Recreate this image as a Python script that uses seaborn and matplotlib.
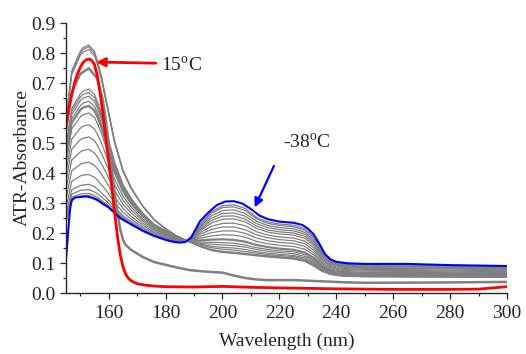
#!/usr/bin/env python3
"""ATR absorbance spectra on cooling, 15 C (red) to -38 C (blue)."""
import matplotlib; matplotlib.use('Agg')
import matplotlib.pyplot as plt
from matplotlib.ticker import MultipleLocator
import seaborn as sns
import pandas as pd

# ─── Data ───
RED_WL = [145, 146, 147, 148, 149, 150, 151, 152, 153, 154, 155, 156, 157, 158, 159, 160, 161, 162,
          163, 164, 165, 166, 167, 168, 170, 173, 176, 180, 190, 200, 210, 220, 240, 260, 280, 290, 295, 300]
RED_A = [0.56, 0.615, 0.66, 0.70, 0.73, 0.752, 0.768, 0.777, 0.78, 0.776, 0.762, 0.725, 0.665, 0.595,
         0.515, 0.44, 0.36, 0.275, 0.195, 0.13, 0.088, 0.062, 0.048, 0.04, 0.031, 0.026, 0.023, 0.021,
         0.02, 0.022, 0.019, 0.017, 0.014, 0.012, 0.012, 0.013, 0.017, 0.021]

BLUE_WL = [145, 145.5, 146, 146.5, 147, 148, 150, 152, 154, 156, 158, 160, 164, 168, 172, 176, 180,
           183, 185, 187, 189, 192, 195, 198, 201, 204, 207, 210, 213, 216, 220, 225, 228, 230, 232,
           234, 236, 238, 240, 244, 250, 265, 280, 300]
BLUE_A = [0.115, 0.17, 0.235, 0.285, 0.308, 0.318, 0.32, 0.322, 0.318, 0.31, 0.297, 0.285, 0.25,
          0.228, 0.207, 0.19, 0.177, 0.17, 0.168, 0.17, 0.185, 0.238, 0.268, 0.293, 0.305, 0.306,
          0.298, 0.28, 0.258, 0.246, 0.238, 0.234, 0.227, 0.215, 0.196, 0.165, 0.13, 0.112, 0.104,
          0.099, 0.097, 0.097, 0.093, 0.09]

# first spectrum after 15 C: steep drop, flat low tail
DROP_WL = [145, 147, 150, 153, 156, 158, 159, 160, 161, 162, 163, 164, 165, 166, 168, 172, 176, 180,
           184, 188, 192, 196, 200, 204, 208, 212, 216, 225, 235, 242, 250, 275, 300]
DROP_A = [0.54, 0.67, 0.73, 0.749, 0.715, 0.64, 0.575, 0.50, 0.42, 0.34, 0.27, 0.215, 0.178, 0.16,
          0.143, 0.12, 0.103, 0.094, 0.085, 0.077, 0.073, 0.07, 0.068, 0.058, 0.05, 0.045, 0.043,
          0.043, 0.039, 0.036, 0.034, 0.035, 0.037]

# intermediate temperatures, all on one wavelength grid
GRAY_WL = [145, 147, 150, 151, 153, 155, 156, 157.5, 159, 160.5, 162, 165, 168, 172, 176, 180, 184,
           188, 192, 196, 200, 204, 208, 212, 216, 220, 225, 229, 232, 235, 238, 242, 250, 275, 300]
GRAY_A = [
    [0.58, 0.74, 0.805, 0.818, 0.827, 0.805, 0.775, 0.72, 0.65, 0.58, 0.51, 0.41, 0.35, 0.29, 0.245, 0.215, 0.19, 0.172, 0.155, 0.142, 0.135, 0.132, 0.128, 0.124, 0.12, 0.117, 0.113, 0.105, 0.09, 0.072, 0.062, 0.056, 0.054, 0.053, 0.052],
    [0.576, 0.735, 0.80, 0.812, 0.821, 0.799, 0.77, 0.715, 0.646, 0.577, 0.507, 0.408, 0.348, 0.289, 0.244, 0.214, 0.19, 0.172, 0.156, 0.143, 0.137, 0.134, 0.13, 0.126, 0.122, 0.119, 0.115, 0.107, 0.092, 0.073, 0.063, 0.057, 0.055, 0.054, 0.053],
    [0.57, 0.728, 0.792, 0.803, 0.812, 0.791, 0.763, 0.709, 0.641, 0.573, 0.503, 0.405, 0.346, 0.288, 0.243, 0.213, 0.189, 0.172, 0.157, 0.145, 0.139, 0.136, 0.132, 0.128, 0.124, 0.121, 0.117, 0.109, 0.094, 0.075, 0.064, 0.058, 0.056, 0.055, 0.054],
    [0.489, 0.614, 0.663, 0.673, 0.68, 0.662, 0.639, 0.597, 0.545, 0.492, 0.439, 0.362, 0.314, 0.266, 0.229, 0.208, 0.186, 0.172, 0.16, 0.151, 0.146, 0.143, 0.138, 0.133, 0.128, 0.125, 0.121, 0.112, 0.097, 0.077, 0.065, 0.059, 0.057, 0.056, 0.054],
    [0.481, 0.605, 0.653, 0.662, 0.668, 0.651, 0.629, 0.588, 0.538, 0.486, 0.434, 0.358, 0.312, 0.264, 0.228, 0.207, 0.185, 0.172, 0.163, 0.156, 0.152, 0.15, 0.145, 0.138, 0.133, 0.129, 0.125, 0.117, 0.101, 0.08, 0.067, 0.061, 0.058, 0.057, 0.056],
    [0.472, 0.594, 0.641, 0.650, 0.656, 0.639, 0.617, 0.578, 0.529, 0.478, 0.428, 0.354, 0.309, 0.262, 0.226, 0.206, 0.185, 0.172, 0.166, 0.163, 0.16, 0.158, 0.153, 0.145, 0.139, 0.135, 0.131, 0.122, 0.106, 0.083, 0.07, 0.063, 0.06, 0.059, 0.058],
    [0.459, 0.58, 0.624, 0.633, 0.639, 0.622, 0.602, 0.563, 0.516, 0.468, 0.42, 0.348, 0.304, 0.259, 0.224, 0.204, 0.184, 0.173, 0.17, 0.169, 0.168, 0.166, 0.16, 0.151, 0.145, 0.141, 0.137, 0.128, 0.11, 0.086, 0.072, 0.065, 0.062, 0.061, 0.059],
    [0.449, 0.567, 0.61, 0.618, 0.624, 0.608, 0.588, 0.551, 0.506, 0.459, 0.413, 0.344, 0.301, 0.257, 0.223, 0.202, 0.183, 0.173, 0.175, 0.178, 0.179, 0.177, 0.171, 0.16, 0.153, 0.148, 0.144, 0.135, 0.117, 0.091, 0.075, 0.068, 0.065, 0.064, 0.062],
    [0.431, 0.547, 0.587, 0.594, 0.60, 0.585, 0.566, 0.531, 0.489, 0.445, 0.401, 0.336, 0.295, 0.253, 0.22, 0.20, 0.181, 0.173, 0.182, 0.19, 0.194, 0.193, 0.186, 0.172, 0.164, 0.159, 0.155, 0.146, 0.127, 0.098, 0.08, 0.072, 0.069, 0.068, 0.065],
    [0.403, 0.513, 0.549, 0.556, 0.561, 0.547, 0.53, 0.499, 0.461, 0.422, 0.382, 0.323, 0.286, 0.246, 0.216, 0.197, 0.179, 0.173, 0.188, 0.201, 0.207, 0.207, 0.199, 0.183, 0.174, 0.169, 0.165, 0.155, 0.135, 0.103, 0.084, 0.075, 0.073, 0.071, 0.068],
    [0.374, 0.479, 0.511, 0.516, 0.52, 0.508, 0.493, 0.465, 0.433, 0.398, 0.363, 0.31, 0.276, 0.24, 0.212, 0.194, 0.178, 0.174, 0.194, 0.212, 0.22, 0.22, 0.211, 0.194, 0.184, 0.178, 0.174, 0.164, 0.143, 0.109, 0.088, 0.079, 0.076, 0.074, 0.071],
    [0.343, 0.443, 0.47, 0.475, 0.479, 0.467, 0.454, 0.43, 0.403, 0.373, 0.343, 0.296, 0.266, 0.233, 0.207, 0.191, 0.176, 0.174, 0.20, 0.222, 0.232, 0.233, 0.224, 0.204, 0.193, 0.187, 0.183, 0.173, 0.151, 0.114, 0.092, 0.082, 0.079, 0.077, 0.074],
    [0.312, 0.407, 0.429, 0.433, 0.436, 0.425, 0.415, 0.395, 0.373, 0.348, 0.322, 0.282, 0.255, 0.226, 0.202, 0.188, 0.174, 0.174, 0.206, 0.233, 0.246, 0.247, 0.237, 0.215, 0.203, 0.197, 0.193, 0.182, 0.159, 0.12, 0.096, 0.086, 0.082, 0.081, 0.077],
    [0.283, 0.372, 0.39, 0.393, 0.395, 0.386, 0.377, 0.36, 0.344, 0.323, 0.303, 0.269, 0.246, 0.219, 0.198, 0.185, 0.173, 0.174, 0.21, 0.241, 0.256, 0.257, 0.246, 0.223, 0.21, 0.204, 0.20, 0.189, 0.165, 0.124, 0.099, 0.088, 0.085, 0.083, 0.079],
    [0.259, 0.344, 0.358, 0.36, 0.362, 0.354, 0.347, 0.333, 0.32, 0.304, 0.287, 0.258, 0.238, 0.214, 0.194, 0.183, 0.171, 0.174, 0.215, 0.249, 0.265, 0.267, 0.256, 0.231, 0.218, 0.211, 0.207, 0.196, 0.171, 0.129, 0.102, 0.091, 0.087, 0.086, 0.081],
    [0.247, 0.329, 0.342, 0.343, 0.345, 0.337, 0.331, 0.319, 0.308, 0.294, 0.279, 0.252, 0.233, 0.211, 0.192, 0.181, 0.17, 0.175, 0.219, 0.257, 0.275, 0.277, 0.265, 0.239, 0.225, 0.218, 0.214, 0.202, 0.177, 0.133, 0.104, 0.093, 0.09, 0.088, 0.084],
    [0.238, 0.319, 0.33, 0.331, 0.332, 0.325, 0.319, 0.308, 0.299, 0.286, 0.273, 0.248, 0.23, 0.209, 0.191, 0.179, 0.169, 0.175, 0.224, 0.265, 0.285, 0.287, 0.275, 0.247, 0.232, 0.225, 0.221, 0.209, 0.184, 0.137, 0.107, 0.096, 0.092, 0.09, 0.086],
    [0.233, 0.313, 0.323, 0.324, 0.325, 0.318, 0.313, 0.303, 0.294, 0.282, 0.269, 0.246, 0.229, 0.208, 0.19, 0.178, 0.169, 0.175, 0.227, 0.27, 0.291, 0.294, 0.282, 0.252, 0.237, 0.23, 0.226, 0.214, 0.188, 0.14, 0.109, 0.098, 0.094, 0.092, 0.087],
]
THICK_GRAY = [7]  # the 0.62 spectrum is drawn heavier

gray_df = pd.DataFrame([
    {'curve': i, 'wl': w, 'A': a}
    for i, curve in enumerate(GRAY_A) for w, a in zip(GRAY_WL, curve)])

# ─── Style ───
sns.set_style('ticks')
plt.rcParams['font.family'] = ['Liberation Serif', 'DejaVu Serif']
plt.rcParams['mathtext.fontset'] = 'custom'
plt.rcParams['mathtext.rm'] = 'Liberation Serif'
plt.rcParams['axes.linewidth'] = 1.0

fig = plt.figure(figsize=(5.26, 3.54), dpi=100)
ax = fig.add_axes([0.1255, 0.1723, 0.8384, 0.7627])

GRAY = '#808080'
sns.lineplot(data=gray_df[~gray_df['curve'].isin(THICK_GRAY)], x='wl', y='A', units='curve',
             estimator=None, sort=False, color=GRAY, lw=0.9, ax=ax, legend=False)
sns.lineplot(data=gray_df[gray_df['curve'].isin(THICK_GRAY)], x='wl', y='A', units='curve',
             estimator=None, sort=False, color=GRAY, lw=1.6, ax=ax, legend=False)
sns.lineplot(x=DROP_WL, y=DROP_A, sort=False, color=GRAY, lw=1.8, ax=ax)
sns.lineplot(x=BLUE_WL, y=BLUE_A, sort=False, color='#0000ff', lw=1.5, ax=ax)
sns.lineplot(x=RED_WL, y=RED_A, sort=False, color='#ff0000', lw=2.0, ax=ax)

# labels with arrows
ax.annotate('', xy=(154.6, 0.77), xytext=(177.5, 0.766),
            arrowprops=dict(arrowstyle='-|>', color='#ff0000', lw=2, mutation_scale=13))
ax.text(178.5, 0.757, r'15$^{\rm o}$C', fontsize=14, ha='left', va='center')
ax.annotate('', xy=(210.9, 0.277), xytext=(218.5, 0.432),
            arrowprops=dict(arrowstyle='-|>', color='#0000ff', lw=1.6, mutation_scale=13))
ax.text(221.3, 0.503, r'-38$^{\rm o}$C', fontsize=14, ha='left', va='center')

ax.set_xlim(145, 300)
ax.set_ylim(0, 0.9)
ax.xaxis.set_major_locator(MultipleLocator(20))
ax.xaxis.set_minor_locator(MultipleLocator(10))
ax.yaxis.set_major_locator(MultipleLocator(0.1))
ax.yaxis.set_minor_locator(MultipleLocator(0.05))
ax.yaxis.set_major_formatter(plt.FuncFormatter(lambda v, p: f'{v:.1f}'))
ax.tick_params(which='major', direction='out', length=4.5, width=0.9, labelsize=14, pad=3)
ax.tick_params(which='minor', direction='out', length=2.5, width=0.9)
ax.tick_params(axis='x', which='major', pad=4)
ax.set_xlabel('Wavelength (nm)', fontsize=14, labelpad=8)
ax.set_ylabel('ATR-Absorbance', fontsize=14, labelpad=0)
sns.despine(ax=ax)

plt.savefig('out.png', dpi=100)
plt.close()
